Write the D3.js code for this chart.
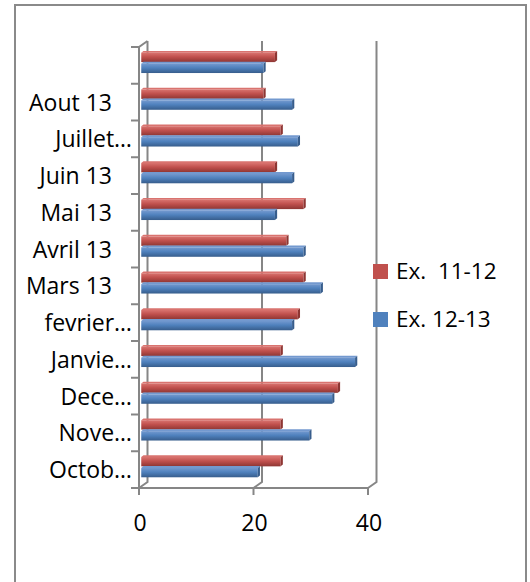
<!DOCTYPE html>
<html>
<head>
<meta charset="utf-8">
<script src="https://cdn.jsdelivr.net/npm/d3@7"></script>
<style>
  html, body { margin: 0; padding: 0; background: #fff; }
  svg { display: block; }
  text { font-family: "Open Sans", "Noto Sans", sans-serif; fill: #000; }
</style>
</head>
<body>
<div id="chart"></div>
<script>
// ---- data (bottom to top) ----
const categories = ["Octobre 12", "Novembre 12", "Decembre 12", "Janvier 13", "fevrier 13",
  "Mars 13", "Avril 13", "Mai 13", "Juin 13", "Juillet 13", "Aout 13", "Septembre 13"];
const tickLabels = ["Octob…", "Nove…", "Dece…", "Janvie…", "fevrier…",
  "Mars 13", "Avril 13", "Mai 13", "Juin 13", "Juillet…", "Aout 13", ""];
const seriesNames = ["Ex.  11-12", "Ex. 12-13"];
const ex1112 = [24, 24, 34, 24, 27, 28, 25, 28, 23, 24, 21, 23];
const ex1213 = [20, 29, 33, 37, 26, 31, 28, 23, 26, 27, 26, 21];
const xTicks = [0, 20, 40];
const colors = ["#C0504D", "#4F81BD"];
const darkColors = ["#8E3633", "#375D8C"];
const lightColors = ["#D9736F", "#7399CF"];

const W = 530, H = 582;
const svg = d3.select("#chart").append("svg").attr("width", W).attr("height", H);

// frame
svg.append("rect").attr("x", 15).attr("y", 5).attr("width", 511).attr("height", 600)
  .attr("fill", "#fff").attr("stroke", "#8a8a8a").attr("stroke-width", 2);

// 3D geometry
const DX = 8.5, DY = -6;       // depth offset front -> back
const xFront = d3.scaleLinear().domain([0, 40]).range([139, 368]);
const yFront = d3.scaleBand().domain(d3.range(categories.length)).range([488, 47]);
const yTopFront = 47, yBotFront = 488;

// defs: gradients
const defs = svg.append("defs");
colors.forEach((c, i) => {
  const g = defs.append("linearGradient").attr("id", "g" + i)
    .attr("x1", 0).attr("y1", 0).attr("x2", 0).attr("y2", 1);
  g.append("stop").attr("offset", "0%").attr("stop-color", lightColors[i]);
  g.append("stop").attr("offset", "45%").attr("stop-color", c);
  g.append("stop").attr("offset", "100%").attr("stop-color", darkColors[i]);
});

const grid = svg.append("g").attr("stroke", "#868686").attr("stroke-width", 2).attr("fill", "none");
// gridlines on back wall + floor
xTicks.forEach(t => {
  const xf = xFront(t), xb = xf + DX;
  grid.append("path").attr("d",
    `M${xb},${yTopFront + DY} L${xb},${yBotFront + DY} L${xf},${yBotFront}`);
});
// left side wall front edge & top edge
grid.append("path").attr("d",
  `M${xFront(0)},${yBotFront} L${xFront(0)},${yTopFront} L${xFront(0) + DX},${yTopFront + DY}`);
// front floor edge
grid.append("path").attr("d", `M${xFront(0)},${yBotFront} L${xFront(40)},${yBotFront}`);

// category axis ticks (left)
const catBounds = d3.range(categories.length + 1).map(i =>
  i < categories.length ? yFront(i) + yFront.bandwidth() : yFront(i - 1));
catBounds.forEach(y => {
  grid.append("line").attr("x1", xFront(0) - 8).attr("x2", xFront(0))
    .attr("y1", y).attr("y2", y);
});
// value axis ticks (bottom)
xTicks.forEach(t => {
  grid.append("line").attr("x1", xFront(t)).attr("x2", xFront(t))
    .attr("y1", yBotFront).attr("y2", yBotFront + 7);
});

// bars at mid depth
const xBar = d3.scaleLinear().domain([0, 40]).range([xFront(0) + DX / 2, xFront(40) + DX / 2]);
const yBar = d3.scaleBand().domain(d3.range(categories.length))
  .range([yBotFront + DY / 2, yTopFront + DY / 2]).paddingInner(0.42).paddingOuter(0.21);
const ySeries = d3.scaleBand().domain([0, 1]).range([0, yBar.bandwidth()]).paddingInner(0.05);

const series = [ex1112, ex1213];
const barsG = svg.append("g");
categories.forEach((c, ci) => {
  series.forEach((vals, si) => {
    const y0 = yBar(ci) + ySeries(si) + 1;
    const h = ySeries.bandwidth() - 1;
    const x0 = xBar(0) - 2, x1 = xBar(vals[ci]);
    const d = 2.2, dy = -1.8;
    // top face
    barsG.append("path").attr("d",
      `M${x0},${y0} L${x0 + d},${y0 + dy} L${x1 + d},${y0 + dy} L${x1},${y0} Z`)
      .attr("fill", lightColors[si]);
    // front face
    barsG.append("rect").attr("x", x0).attr("y", y0).attr("width", x1 - x0).attr("height", h)
      .attr("fill", `url(#g${si})`);
    // end face
    barsG.append("path").attr("d",
      `M${x1},${y0} L${x1 + d},${y0 + dy} L${x1 + d},${y0 + h + dy} L${x1},${y0 + h} Z`)
      .attr("fill", darkColors[si]);
  });
});

// category labels
const labG = svg.append("g").attr("font-size", 23);
tickLabels.forEach((lab, i) => {
  const yc = yFront(i) + yFront.bandwidth() / 2;
  const xEnd = lab.endsWith("…") ? 132 : 112;
  labG.append("text").attr("x", xEnd).attr("y", yc + 8.5)
    .attr("text-anchor", "end").text(lab);
});

// value labels
const valG = svg.append("g").attr("font-size", 23);
xTicks.forEach(t => {
  valG.append("text").attr("x", xFront(t) + 1).attr("y", 531)
    .attr("text-anchor", "middle").text(t);
});

// legend
const leg = svg.append("g");
seriesNames.forEach((n, i) => {
  const y = 264 + i * 48;
  leg.append("rect").attr("x", 373).attr("y", y).attr("width", 15).attr("height", 15)
    .attr("fill", colors[i]);
  leg.append("text").attr("x", 396).attr("y", y + 14.5).attr("font-size", 22.5)
    .attr("xml:space", "preserve").style("white-space", "pre").text(n);
});
</script>
</body>
</html>
